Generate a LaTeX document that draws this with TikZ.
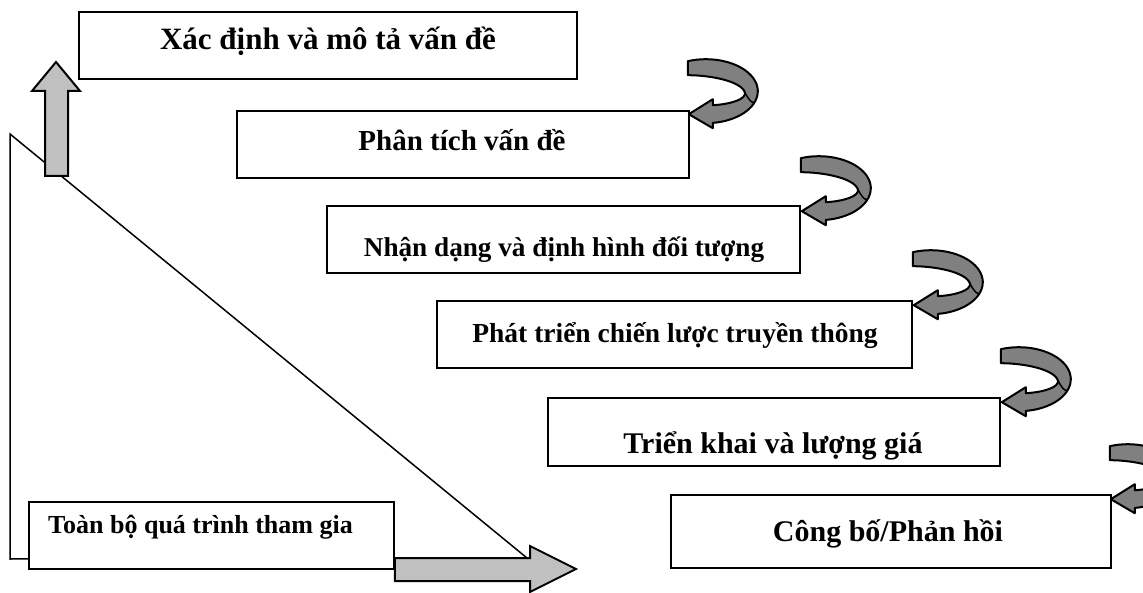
\documentclass[tikz,border=0pt]{standalone}
\usepackage{fontspec}
\setmainfont{Liberation Serif}
\begin{document}
\begin{tikzpicture}[x=1pt,y=-1pt,
  box/.style={draw=black, line width=1.6pt, fill=white, rectangle, inner sep=0pt},
  lbl/.style={anchor=base, inner sep=0pt, font=\bfseries},
  fatarrow/.style={draw=black, line width=2pt, fill={rgb,255:red,192;green,192;blue,192}, line join=miter},
  thinline/.style={draw=black, line width=1.5pt},
  uturn/.pic={
    \filldraw[draw=black, line width=2pt, fill={rgb,255:red,128;green,128;blue,128}, line join=round]
      (-1.04,-53) -- plot[domain=-110.3:82.3, samples=40] ({17+52*cos(\x)},{-23+32*sin(\x)})
      -- (24,14) -- (0,0) -- (24,-15) -- (24,-9)
      .. controls (42,-10) and (58,-15) .. (56,-22)
      .. controls (52,-33) and (22,-39) .. (-1,-39) -- cycle;
    \draw[black, line width=1.5pt] (56,-22) .. controls (60,-14) and (64,-10) .. (66,-12);
  }]
\useasboundingbox (0,0) rectangle (1143,593);
% triangle
\coordinate (tA) at (10,134);
\coordinate (tB) at (10,559);
\coordinate (tC) at (527,558);
\draw[thinline] (tA) -- (tB) -- (tC) -- cycle;
% up arrow
\filldraw[fatarrow] (45,176) -- (45,91) -- (32,91) -- (56,62) -- (80,91) -- (68,91) -- (68,176) -- cycle;
% boxes
\node[box, minimum width=498pt, minimum height=67pt] (b1) at (328,45.5) {};
\node[box, minimum width=452pt, minimum height=67pt] (b2) at (463,144.5) {};
\node[box, minimum width=473pt, minimum height=67pt] (b3) at (563.5,239.5) {};
\node[box, minimum width=475pt, minimum height=67pt] (b4) at (674.5,334.5) {};
\node[box, minimum width=452pt, minimum height=68pt] (b5) at (774,432) {};
\node[box, minimum width=440pt, minimum height=73pt] (b6) at (891,531.5) {};
\node[box, minimum width=365pt, minimum height=67pt] (b7) at (211.5,535.5) {};
% right arrow
\filldraw[fatarrow] (b7.east |- 0,558) -- (530,558) -- (530,546) -- (576,569) -- (530,592) -- (530,581) -- (b7.east |- 0,581) -- cycle;
% texts
\node[lbl, font=\bfseries\fontsize{31}{31}\selectfont] (t1) at (328,50) {Xác định và mô tả vấn đề};
\node[lbl, font=\bfseries\fontsize{29}{29}\selectfont] (t2) at (462,151) {Phân tích vấn đề};
\node[lbl, font=\bfseries\fontsize{27.2}{27.2}\selectfont] (t3) at (564,257) {Nhận dạng và định hình đối tượng};
\node[lbl, font=\bfseries\fontsize{27.5}{27.5}\selectfont] (t4) at (675,343) {Phát triển chiến lược truyền thông};
\node[lbl, font=\bfseries\fontsize{30}{30}\selectfont] (t5) at (773,453) {Triển khai và lượng giá};
\node[lbl, font=\bfseries\fontsize{30}{30}\selectfont] (t6) at (888,541) {Công bố/Phản hồi};
\node[lbl, anchor=base west, font=\bfseries\fontsize{26}{26}\selectfont] (t7) at (48,533) {Toàn bộ quá trình tham gia};
% curved arrows
\path (b2.north east) ++(-1,4) pic {uturn};
\path (b3.north east) ++(1,6) pic {uturn};
\path (b4.north east) ++(1,5) pic {uturn};
\path (b5.north east) ++(1,5) pic {uturn};
\path (b6.north east) ++(-1,5) pic {uturn};
\end{tikzpicture}
\end{document}
